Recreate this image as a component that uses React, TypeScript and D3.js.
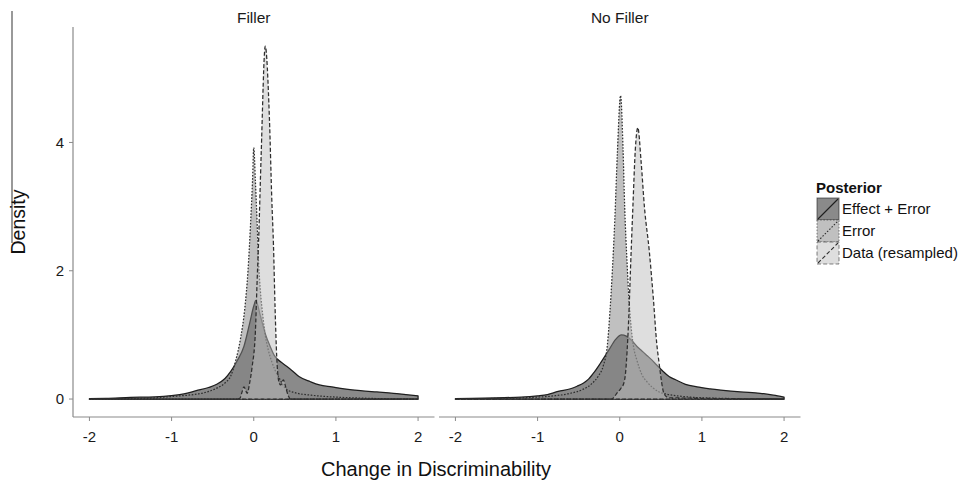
import React from "react";
import * as d3 from "d3";

const panels = ["Filler", "No Filler"];
const seriesNames = ["Effect + Error", "Error", "Data (resampled)"];
const xTicks = [-2, -1, 0, 1, 2];
const yTicks = [0, 2, 4];

// Filler panel
const fillerEffect: [number, number][] = [
  [-2, 0.005], [-1.8, 0.01], [-1.5, 0.025], [-1.2, 0.035], [-1, 0.055], [-0.85, 0.08], [-0.7, 0.13],
  [-0.55, 0.18], [-0.45, 0.23], [-0.35, 0.32], [-0.28, 0.43], [-0.2, 0.6], [-0.12, 0.82],
  [-0.05, 1.18], [0, 1.45], [0.025, 1.54], [0.08, 1.3], [0.14, 1.02], [0.2, 0.82], [0.25, 0.68],
  [0.29, 0.62], [0.37, 0.54], [0.46, 0.45], [0.55, 0.35], [0.69, 0.27], [0.8, 0.22], [0.95, 0.19],
  [1.1, 0.16], [1.3, 0.13], [1.5, 0.11], [1.7, 0.09], [1.85, 0.07], [2, 0.05],
];
const fillerError: [number, number][] = [
  [-2, 0], [-1.5, 0.01], [-1.2, 0.02], [-1, 0.04], [-0.8, 0.06], [-0.6, 0.1], [-0.45, 0.17],
  [-0.35, 0.25], [-0.28, 0.36], [-0.22, 0.6], [-0.16, 0.95], [-0.11, 1.4], [-0.07, 2.0],
  [-0.04, 2.7], [-0.015, 3.4], [0, 3.92], [0.02, 3.4], [0.04, 2.78], [0.06, 2.1], [0.08, 1.7],
  [0.11, 1.3], [0.14, 1.0], [0.18, 0.75], [0.22, 0.58], [0.26, 0.45], [0.3, 0.35], [0.4, 0.15],
  [0.5, 0.1], [0.7, 0.06], [1, 0.03], [1.3, 0.015], [1.6, 0.005], [2, 0],
];
const fillerData: [number, number][] = [
  [-2, 0], [-0.5, 0], [-0.2, 0], [-0.17, 0.01], [-0.14, 0.12], [-0.12, 0.19], [-0.08, 0.09],
  [-0.05, 0.25], [-0.02, 0.5], [0.02, 1.05], [0.04, 1.8], [0.06, 2.5], [0.09, 3.8], [0.14, 5.5],
  [0.19, 4.4], [0.22, 3.1], [0.24, 2.4], [0.26, 1.4], [0.28, 0.65], [0.31, 0.25], [0.33, 0.22],
  [0.36, 0.3], [0.39, 0.18], [0.42, 0.05], [0.45, 0], [2, 0],
];

// No Filler panel
const noFillerEffect: [number, number][] = [
  [-2, 0.005], [-1.8, 0.01], [-1.5, 0.02], [-1.2, 0.03], [-1, 0.05], [-0.88, 0.07], [-0.75, 0.12],
  [-0.6, 0.16], [-0.52, 0.2], [-0.44, 0.25], [-0.38, 0.31], [-0.31, 0.42], [-0.24, 0.55],
  [-0.13, 0.77], [-0.05, 0.93], [0.02, 1.0], [0.08, 0.98], [0.14, 0.92], [0.21, 0.82],
  [0.27, 0.75], [0.33, 0.68], [0.39, 0.61], [0.45, 0.53], [0.52, 0.44], [0.6, 0.35], [0.68, 0.3],
  [0.8, 0.23], [0.94, 0.19], [1.1, 0.16], [1.23, 0.14], [1.47, 0.11], [1.71, 0.09], [1.87, 0.06],
  [2, 0.03],
];
const noFillerError: [number, number][] = [
  [-2, 0], [-1.5, 0.01], [-1.2, 0.02], [-1, 0.03], [-0.8, 0.05], [-0.6, 0.09], [-0.45, 0.15],
  [-0.34, 0.24], [-0.26, 0.36], [-0.2, 0.52], [-0.15, 0.85], [-0.12, 1.35], [-0.09, 2.0],
  [-0.06, 2.8], [-0.03, 3.8], [0.01, 4.73], [0.04, 3.9], [0.06, 3.0], [0.09, 2.1], [0.11, 1.6],
  [0.14, 1.1], [0.17, 0.8], [0.21, 0.6], [0.27, 0.38], [0.33, 0.27], [0.4, 0.18], [0.48, 0.11],
  [0.56, 0.08], [0.7, 0.05], [0.85, 0.03], [1, 0.02], [1.5, 0.005], [2, 0],
];
const noFillerData: [number, number][] = [
  [-2, 0], [-0.1, 0], [-0.07, 0.03], [-0.03, 0.1], [0.01, 0.16], [0.05, 0.25], [0.07, 0.4],
  [0.09, 0.76], [0.11, 1.28], [0.13, 2.0], [0.16, 3.0], [0.19, 3.9], [0.22, 4.23], [0.26, 3.7],
  [0.3, 3.0], [0.36, 2.3], [0.41, 1.55], [0.45, 0.87], [0.48, 0.55], [0.5, 0.35], [0.52, 0.18],
  [0.54, 0.08], [0.6, 0.02], [2, 0],
];

const panelSeries = [
  [fillerEffect, fillerError, fillerData],
  [noFillerEffect, noFillerError, noFillerData],
];

const fills = ["#151515", "#818181", "#bdbdbd"];
const keyFills = ["#8a8a8a", "#c0c0c0", "#dedede"];
const dashes = [null, "1.6,1.6", "4,2.2"];
const strokes = ["#1e1e1e", "#2e2e2e", "#2e2e2e"];

const FONT = "'Liberation Sans', Arial, Helvetica, sans-serif";

export default function App() {
  const W = 966, H = 480;
  const top = 27, bottom = 417;
  const panelX = [[73, 434.5], [439, 800.5]];
  const y = d3.scaleLinear().domain([-0.28, 5.8]).range([bottom, top]);
  const axisColor = "#8a8a8a";

  return (
    <svg width={W} height={H} style={{ position: "absolute", left: 0, top: 0 }} fontFamily={FONT}>
      <rect width={W} height={H} fill="#fff" />
      {/* stray line at far left */}
      <line x1={12} x2={12} y1={11} y2={243} stroke="#777" strokeWidth={1.5} />
      {panels.map((name, pi) => {
        const x = d3.scaleLinear().domain([-2.2, 2.2]).range(panelX[pi]);
        const area = d3
          .area<[number, number]>()
          .x((d) => x(d[0]))
          .y0(y(0))
          .y1((d) => y(d[1]))
          .curve(d3.curveMonotoneX);
        return (
          <g key={name}>
            <text x={(panelX[pi][0] + panelX[pi][1]) / 2} y={23} textAnchor="middle" fontSize={15.5} fill="#1a1a1a">
              {name}
            </text>
            {panelSeries[pi].map((s, si) => {
              const p = area(s) + "Z";
              return (
                <g key={si}>
                  <path d={p} fill={fills[si]} fillOpacity={0.5} stroke="none" />
                  <path
                    d={p}
                    fill="none"
                    stroke={strokes[si]}
                    strokeWidth={1.25}
                    strokeDasharray={dashes[si] ?? undefined}
                    strokeLinejoin="round"
                  />
                </g>
              );
            })}
            {/* x axis */}
            <line x1={panelX[pi][0]} x2={panelX[pi][1]} y1={bottom} y2={bottom} stroke={axisColor} strokeWidth={1.2} />
            {xTicks.map((t) => (
              <g key={t}>
                <line x1={x(t)} x2={x(t)} y1={bottom} y2={bottom + 4} stroke={axisColor} strokeWidth={1} />
                <text x={x(t)} y={442} textAnchor="middle" fontSize={15} fill="#1a1a1a">
                  {t}
                </text>
              </g>
            ))}
          </g>
        );
      })}
      {/* y axis */}
      <line x1={73} x2={73} y1={top} y2={bottom} stroke={axisColor} strokeWidth={1.2} />
      {yTicks.map((t) => (
        <g key={t}>
          <line x1={69} x2={73} y1={y(t)} y2={y(t)} stroke={axisColor} strokeWidth={1} />
          <text x={64} y={y(t)} dy="0.36em" textAnchor="end" fontSize={15} fill="#1a1a1a">
            {t}
          </text>
        </g>
      ))}
      <text x={436} y={476} textAnchor="middle" fontSize={20} fill="#111">
        Change in Discriminability
      </text>
      <text transform={`translate(25,${(top + bottom) / 2}) rotate(-90)`} textAnchor="middle" fontSize={19.5} fill="#111">
        Density
      </text>
      {/* legend */}
      <text x={816} y={193} fontSize={15} fontWeight="bold" fill="#111">
        Posterior
      </text>
      {seriesNames.map((n, i) => {
        const ky = 198 + i * 22;
        return (
          <g key={n}>
            <rect x={817} y={ky} width={22} height={22} fill={keyFills[i]} stroke={strokes[i]} strokeWidth={1}
              strokeDasharray={dashes[i] ?? undefined} strokeOpacity={0.6} />
            <line x1={818} y1={ky + 21} x2={838} y2={ky + 1} stroke={strokes[i]} strokeWidth={1.1}
              strokeDasharray={dashes[i] ?? undefined} />
            <text x={842} y={ky + 11} dy="0.36em" fontSize={15} fill="#111">
              {n}
            </text>
          </g>
        );
      })}
    </svg>
  );
}
